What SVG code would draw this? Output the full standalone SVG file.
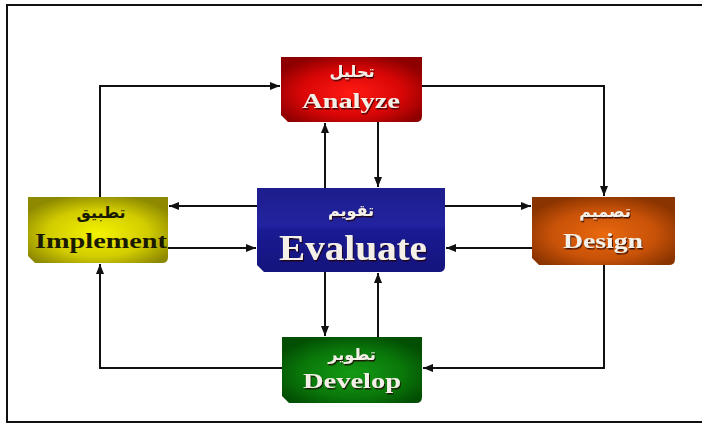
<svg xmlns="http://www.w3.org/2000/svg" width="702" height="425" viewBox="0 0 702 425">
  <style>
    .conn { fill: none; stroke: #111; stroke-width: 2; marker-end: url(#arr); }
    .en { font-family: "Liberation Serif", "Times New Roman", serif; font-weight: bold; text-anchor: middle; fill: #f4f0e8; filter: url(#sh); }
    .ar { font-family: "DejaVu Sans", sans-serif; font-weight: bold; text-anchor: middle; fill: #f4f0e8; filter: url(#sh); }
    .dark { fill: #1a1a00; filter: none; }
  </style>
  <defs>
    <marker id="arr" markerUnits="userSpaceOnUse" markerWidth="10" markerHeight="8" refX="10" refY="4" orient="auto">
      <path d="M0,0 L10,4 L0,8 z" fill="#111"/>
    </marker>
    <filter id="sh" x="-10%" y="-20%" width="120%" height="150%">
      <feDropShadow dx="1" dy="1.5" stdDeviation="0.6" flood-color="#200" flood-opacity="0.8"/>
    </filter>
    <radialGradient id="gRed" cx="0.5" cy="0.55" r="0.6">
      <stop offset="0" stop-color="#ff1a12"/>
      <stop offset="0.6" stop-color="#d80606"/>
      <stop offset="1" stop-color="#8e0000"/>
    </radialGradient>
    <linearGradient id="gBlue" x1="0" y1="0" x2="0" y2="1">
      <stop offset="0" stop-color="#1d1d8c"/>
      <stop offset="0.45" stop-color="#2323a0"/>
      <stop offset="0.5" stop-color="#1a1a94"/>
      <stop offset="1" stop-color="#14147c"/>
    </linearGradient>
    <radialGradient id="gYel" cx="0.5" cy="0.55" r="0.6">
      <stop offset="0" stop-color="#f4f200"/>
      <stop offset="0.6" stop-color="#d2cc00"/>
      <stop offset="1" stop-color="#8e8a00"/>
    </radialGradient>
    <radialGradient id="gOra" cx="0.5" cy="0.55" r="0.6">
      <stop offset="0" stop-color="#e8680e"/>
      <stop offset="0.6" stop-color="#c85208"/>
      <stop offset="1" stop-color="#8a3400"/>
    </radialGradient>
    <radialGradient id="gGrn" cx="0.5" cy="0.55" r="0.6">
      <stop offset="0" stop-color="#149a14"/>
      <stop offset="0.6" stop-color="#0a780a"/>
      <stop offset="1" stop-color="#024e02"/>
    </radialGradient>
  </defs>

  <rect x="7" y="5" width="702" height="417" fill="#fff" stroke="#111" stroke-width="2"/>

  <g id="connectors">
    <path class="conn" d="M100,197 V86 H280"/>
    <path class="conn" d="M422,86 H604 V196"/>
    <path class="conn" d="M604,265 V368 H423"/>
    <path class="conn" d="M282,368 H100 V264"/>
    <path class="conn" d="M325,188 V123"/>
    <path class="conn" d="M378,122 V187"/>
    <path class="conn" d="M325,272 V336"/>
    <path class="conn" d="M378,337 V273"/>
    <path class="conn" d="M257,206 H169"/>
    <path class="conn" d="M168,248 H256"/>
    <path class="conn" d="M445,206 H531"/>
    <path class="conn" d="M532,248 H446"/>
  </g>

  <g id="analyze">
    <path d="M281,57 H422 V116 Q422,122 416,122 H288 L281,115 Z" fill="url(#gRed)"/>
    <text class="ar" x="352" y="77" font-size="16">تحليل</text>
    <text class="en" x="351" y="108" font-size="22" textLength="98" lengthAdjust="spacingAndGlyphs">Analyze</text>
  </g>

  <g id="evaluate">
    <path d="M257,188 H445 V266 Q445,272 439,272 H264 L257,265 Z" fill="url(#gBlue)"/>
    <text class="ar" x="351" y="216" font-size="16">تقويم</text>
    <text class="en" x="353" y="260" font-size="35" textLength="148" lengthAdjust="spacingAndGlyphs">Evaluate</text>
  </g>

  <g id="implement">
    <path d="M28,197 H168 V257 Q168,263 162,263 H35 L28,256 Z" fill="url(#gYel)"/>
    <text class="ar dark" x="101" y="218" font-size="16">تطبيق</text>
    <text class="en dark" x="101" y="248" font-size="22" textLength="132" lengthAdjust="spacingAndGlyphs">Implement</text>
  </g>

  <g id="design">
    <path d="M532,197 H675 V259 Q675,265 669,265 H539 L532,258 Z" fill="url(#gOra)"/>
    <text class="ar" x="605" y="217" font-size="16">تصميم</text>
    <text class="en" x="603" y="248" font-size="21" textLength="80" lengthAdjust="spacingAndGlyphs">Design</text>
  </g>

  <g id="develop">
    <path d="M282,337 H422 V397 Q422,403 416,403 H289 L282,396 Z" fill="url(#gGrn)"/>
    <text class="ar" x="352" y="360" font-size="16">تطوير</text>
    <text class="en" x="352" y="388" font-size="21" textLength="98" lengthAdjust="spacingAndGlyphs">Develop</text>
  </g>
</svg>
